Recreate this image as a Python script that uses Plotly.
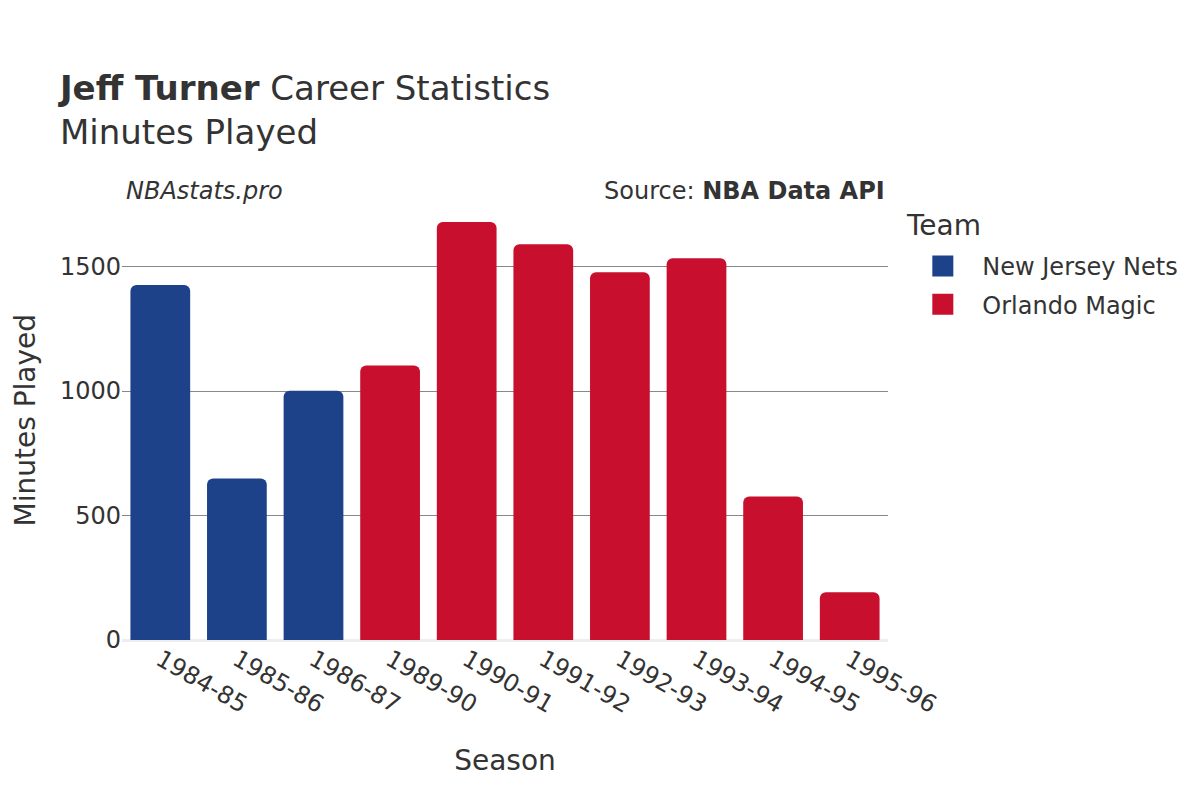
import plotly.graph_objects as go

seasons = ["1984-85", "1985-86", "1986-87", "1989-90", "1990-91", "1991-92",
           "1992-93", "1993-94", "1994-95", "1995-96"]
teams = ["New Jersey Nets", "New Jersey Nets", "New Jersey Nets", "Orlando Magic",
         "Orlando Magic", "Orlando Magic", "Orlando Magic", "Orlando Magic",
         "Orlando Magic", "Orlando Magic"]
minutes = [1426, 649, 1001, 1103, 1679, 1590, 1477, 1533, 576, 192]
team_order = ["New Jersey Nets", "Orlando Magic"]
team_colors = {"New Jersey Nets": "#1D428A", "Orlando Magic": "#C8102E"}

FONT = "DejaVu Sans"
fig = go.Figure()
for t in team_order:
    xs = [s for s, tm in zip(seasons, teams) if tm == t]
    ys = [m for m, tm in zip(minutes, teams) if tm == t]
    fig.add_trace(go.Bar(x=xs, y=ys, name=t, marker_color=team_colors[t],
                         marker_line_width=0, showlegend=False, legendgroup=t))
    # legend-only entry with a larger swatch
    fig.add_trace(go.Scatter(x=[None], y=[None], mode="markers", name=t,
                             legendgroup=t,
                             marker=dict(symbol="square", size=16,
                                         color=team_colors[t],
                                         line=dict(width=5, color=team_colors[t]))))

# page has an 8px body margin, so the figure is sized to fill 1200x800 exactly
fig.update_layout(
    width=1192, height=792,
    barmode="relative",
    bargap=0.22,
    barcornerradius=6,
    plot_bgcolor="white", paper_bgcolor="white",
    font=dict(family=FONT, size=24, color="#333333"),
    margin=dict(l=114, r=312, t=192, b=160),
    title=dict(text="<b>Jeff Turner</b> Career Statistics<br>Minutes Played",
               x=0.0436, xanchor="left", y=0.8838, yanchor="top",
               font=dict(family=FONT, size=34, color="#333333")),
    xaxis=dict(title=dict(text="Season", font=dict(size=28), standoff=32),
               categoryorder="array", categoryarray=seasons,
               tickangle=30, showgrid=False, ticks="", automargin=False,
               tickfont=dict(size=24)),
    yaxis=dict(showgrid=True, gridcolor="#888888", gridwidth=1,
               zeroline=True, zerolinecolor="#eeeeee", zerolinewidth=3,
               tickvals=[0, 500, 1000, 1500], ticks="", automargin=False,
               tickfont=dict(size=24)),
    legend=dict(x=1.02, xanchor="left", y=0.9, yanchor="top",
                font=dict(size=24), itemsizing="trace", itemwidth=69,
                tracegroupgap=4),
    annotations=[
        dict(text="Minutes Played", xref="paper", yref="paper",
             x=-0.126, y=0.5, xanchor="center", yanchor="middle",
             textangle=-90, showarrow=False,
             font=dict(size=28, color="#333333")),
        dict(text="Team", xref="paper", yref="paper",
             x=1.0209, y=0.941, xanchor="left", yanchor="middle",
             showarrow=False, font=dict(size=28, color="#333333")),
        dict(text="<i>NBAstats.pro</i>", xref="paper", yref="paper",
             x=0.108, y=1.02, xanchor="center", yanchor="middle",
             showarrow=False, font=dict(size=24, color="#333333")),
        dict(text="Source: <b>NBA Data API</b>", xref="paper", yref="paper",
             x=0.999, y=1.02, xanchor="right", yanchor="middle",
             showarrow=False, font=dict(size=24, color="#333333")),
    ],
)
fig.write_html("out.html")
